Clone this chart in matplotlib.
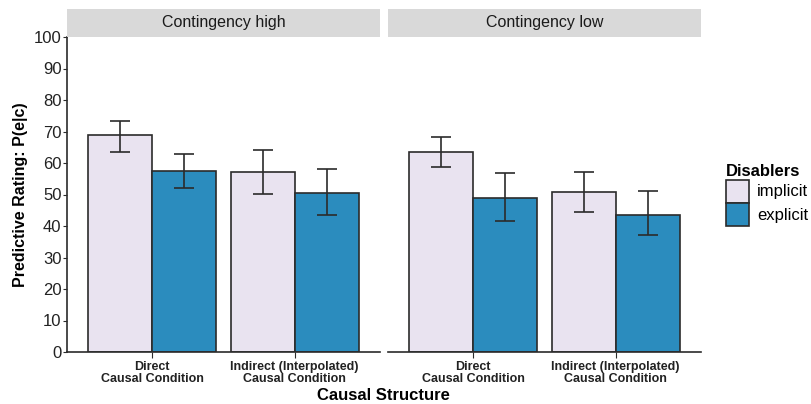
import numpy as np
import matplotlib
matplotlib.use('Agg')
import matplotlib.pyplot as plt
from matplotlib.patches import Patch

plt.rcParams['font.family'] = ['Liberation Sans', 'DejaVu Sans']

# donnees
panels = ['Contingency high', 'Contingency low']
categories = ['Direct\nCausal Condition', 'Indirect (Interpolated)\nCausal Condition']
groups = ['implicit', 'explicit']
means = {
    'Contingency high': {'implicit': [68.8, 57.3], 'explicit': [57.4, 50.5]},
    'Contingency low': {'implicit': [63.4, 50.7], 'explicit': [49.0, 43.5]},
}
lower = {
    'Contingency high': {'implicit': [63.5, 50.3], 'explicit': [52.0, 43.5]},
    'Contingency low': {'implicit': [58.6, 44.3], 'explicit': [41.5, 37.0]},
}
upper = {
    'Contingency high': {'implicit': [73.4, 64.0], 'explicit': [62.7, 58.0]},
    'Contingency low': {'implicit': [68.4, 57.3], 'explicit': [56.8, 51.0]},
}
colors = {'implicit': '#e9e3f0', 'explicit': '#2b8cbe'}
edge = '#2b2b2b'

fig = plt.figure(figsize=(8.11, 4.04), dpi=100)
fig.patch.set_facecolor('white')

H = 404.0
W = 811.0
bottom = 1 - 352 / H
top = 1 - 37 / H
lefts = [67 / W, 388 / W]
width = 313 / W

x = np.arange(1, len(categories) + 1)
bw = 0.45
for k, p in enumerate(panels):
    ax = fig.add_axes([lefts[k], bottom, width, top - bottom])
    for j, g in enumerate(groups):
        xs = x + (j - 0.5) * bw
        m = np.array(means[p][g])
        lo = m - np.array(lower[p][g])
        hi = np.array(upper[p][g]) - m
        ax.bar(xs, m, width=bw, color=colors[g], edgecolor=edge, linewidth=1.2, zorder=2)
        ax.errorbar(xs, m, yerr=[lo, hi], fmt='none', ecolor=edge, elinewidth=1.2,
                    capsize=7, capthick=1.2, zorder=3)
    ax.set_xlim(0.4, 2.6)
    ax.set_ylim(0, 100)
    ax.set_xticks(x)
    ax.set_xticklabels(categories, fontsize=9, fontweight='bold', linespacing=0.95,
                       color='#222222')
    ax.tick_params(axis='x', length=4, color=edge, pad=2.5)
    for s in ['top', 'right']:
        ax.spines[s].set_visible(False)
    ax.spines['bottom'].set_color(edge)
    ax.spines['bottom'].set_linewidth(1.2)
    if k == 0:
        ax.set_yticks(np.arange(0, 101, 10))
        ax.tick_params(axis='y', labelsize=12, length=3, color=edge, labelcolor='#222222', pad=1)
        ax.spines['left'].set_color(edge)
        ax.spines['left'].set_linewidth(1.2)
        ax.set_ylabel('Predictive Rating: P(e|c)', fontsize=11.5, fontweight='bold', labelpad=4)
    else:
        ax.spines['left'].set_visible(False)
        ax.set_yticks([])
    # bandeau de facette
    strip = fig.add_axes([lefts[k], 1 - 37 / H, width, 28 / H])
    strip.set_facecolor('#d9d9d9')
    strip.set_xticks([])
    strip.set_yticks([])
    for s in strip.spines.values():
        s.set_visible(False)
    strip.text(0.5, 0.5, p, ha='center', va='center', fontsize=11.5, color='#1a1a1a')

fig.text(383 / W, 1 - 395 / H, 'Causal Structure', ha='center', va='center',
         fontsize=12, fontweight='bold')

handles = [Patch(facecolor=colors[g], edgecolor=edge, linewidth=1.2, label=g) for g in groups]
leg = fig.legend(handles=handles, loc='upper left', bbox_to_anchor=(719 / W, 1 - 157 / H),
                 frameon=False, title='Disablers', fontsize=12, handlelength=1.4,
                 handleheight=1.75, handletextpad=0.5, labelspacing=0.05, borderaxespad=0)
leg.get_title().set_fontweight('bold')
leg.get_title().set_fontsize(12)
leg._legend_box.align = 'left'

fig.savefig('out.png', dpi=100)
